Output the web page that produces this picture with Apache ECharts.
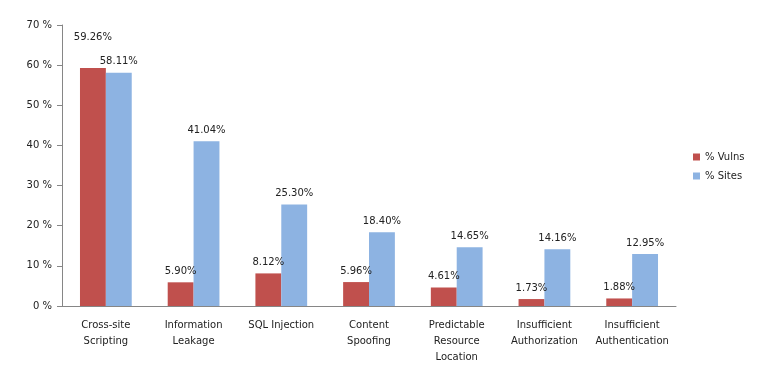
<!DOCTYPE html>
<html><head><meta charset="utf-8">
<script src="https://cdn.jsdelivr.net/npm/echarts@6/dist/echarts.min.js"></script>
<style>html,body{margin:0;padding:0;background:#fff}#c{width:758px;height:381px}</style>
</head><body><div id="c"></div>
<script>
const categories = ["Cross-site\nScripting","Information\nLeakage","SQL Injection","Content\nSpoofing","Predictable\nResource\nLocation","Insufficient\nAuthorization","Insufficient\nAuthentication"];
const vulns = [59.26, 5.90, 8.12, 5.96, 4.61, 1.73, 1.88];
const sites = [58.11, 41.04, 25.30, 18.40, 14.65, 14.16, 12.95];
const yTicks = [0,10,20,30,40,50,60,70];

const font = "DejaVu Sans";
const chart = echarts.init(document.getElementById('c'));
const fmt = p => p.value.toFixed(2) + '%';
const vulnData = vulns.map((v, i) => {
  const item = { value: v };
  if (v < sites[i] + 3 && v > sites[i] - 3) item.label = { offset: [0, -20] };
  return item;
});
chart.setOption({
  animation: false,
  textStyle: { fontFamily: font },
  grid: { left: 62, right: 82, top: 25, bottom: 75 },
  legend: {
    orient: 'vertical', left: 688, top: 147, itemWidth: 7, itemHeight: 7, itemGap: 9,
    icon: 'rect',
    textStyle: { fontSize: 10, color: '#222', fontFamily: font },
    data: ['% Vulns', '% Sites']
  },
  xAxis: {
    type: 'category', data: categories,
    axisLine: { lineStyle: { color: '#868686' } },
    axisTick: { lineStyle: { color: '#868686' }, length: 5 },
    axisLabel: { color: '#222', fontSize: 10, lineHeight: 16, margin: 11, interval: 0, fontFamily: font }
  },
  yAxis: {
    type: 'value', min: 0, max: 70, interval: 10,
    axisLine: { show: true, lineStyle: { color: '#868686' } },
    axisTick: { show: true, lineStyle: { color: '#868686' }, length: 5 },
    splitLine: { show: false },
    axisLabel: { color: '#222', fontSize: 10, margin: 10, fontFamily: font,
      formatter: v => yTicks.includes(v) ? v + ' %' : '' }
  },
  series: [
    { name: '% Vulns', type: 'bar', data: vulnData, barGap: '0%', barCategoryGap: '41%',
      itemStyle: { color: '#C0504D' },
      label: { show: true, position: 'top', distance: 6, formatter: fmt, fontSize: 10, color: '#222', fontFamily: font } },
    { name: '% Sites', type: 'bar', data: sites, barGap: '0%', barCategoryGap: '41%',
      itemStyle: { color: '#8DB3E2' },
      label: { show: true, position: 'top', distance: 6, formatter: fmt, fontSize: 10, color: '#222', fontFamily: font } }
  ]
});
</script></body></html>
